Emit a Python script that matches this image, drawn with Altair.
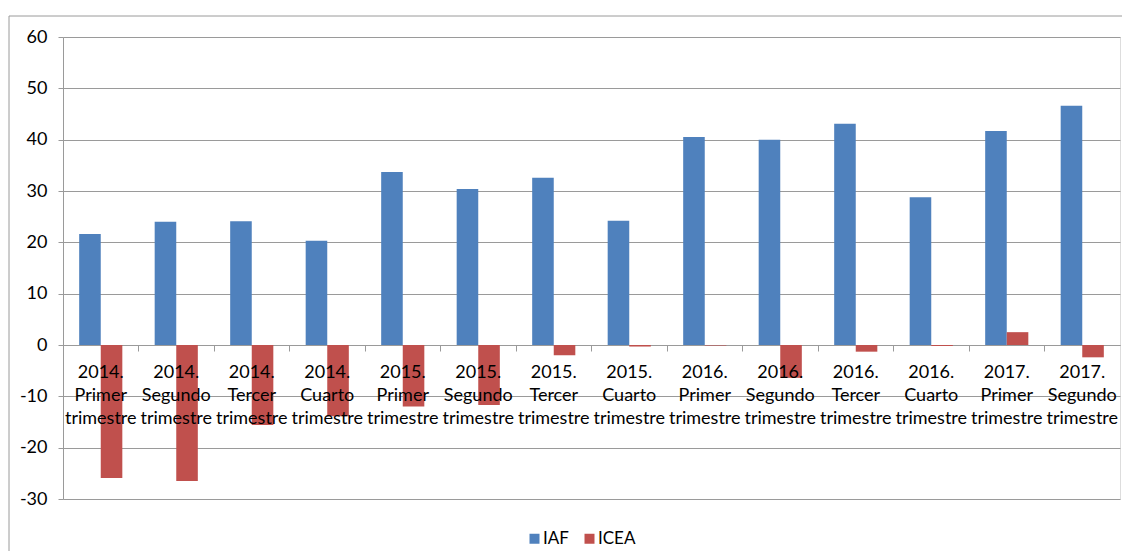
import altair as alt
import pandas as pd

years = ["2014."] * 4 + ["2015."] * 4 + ["2016."] * 4 + ["2017."] * 2
quarters = ["Primer", "Segundo", "Tercer", "Cuarto"] * 3 + ["Primer", "Segundo"]
iaf = [21.6, 24.0, 24.1, 20.3, 33.7, 30.4, 32.6, 24.2, 40.5, 40.0, 43.1, 28.8, 41.7, 46.6]
icea = [-25.9, -26.5, -15.6, -13.9, -12.0, -11.7, -2.0, -0.3, -0.1, -6.4, -1.3, -0.2, 2.5, -2.4]
series = ["IAF", "ICEA"]
colors = ["#4F81BD", "#C0504D"]
y_ticks = [-30, -20, -10, 0, 10, 20, 30, 40, 50, 60]

cats = [f"{y} {q} trimestre" for y, q in zip(years, quarters)]
labels = [f"{y}\n{q}\ntrimestre" for y, q in zip(years, quarters)]

rows = []
for c, a, b in zip(cats, iaf, icea):
    rows.append({"cat": c, "serie": "IAF", "valor": a})
    rows.append({"cat": c, "serie": "ICEA", "valor": b})
df = pd.DataFrame(rows)
lab_df = pd.DataFrame({"cat": cats, "label": labels})

GRAY = "#9a9a9a"
W, H = 1057, 462

xscale = alt.Scale(domain=cats, paddingInner=0, paddingOuter=0)
yscale = alt.Scale(domain=[-30, 60], nice=False)

bars = alt.Chart(df).mark_bar().encode(
    x=alt.X("cat:N", scale=xscale, sort=cats,
            axis=alt.Axis(title=None, labels=False, ticks=True, tickSize=6,
                          bandPosition=0, offset=-154, grid=False,
                          domainColor=GRAY, tickColor=GRAY)),
    xOffset=alt.XOffset("serie:N", sort=series,
                        scale=alt.Scale(paddingInner=0, paddingOuter=0.75)),
    y=alt.Y("valor:Q", scale=yscale,
            axis=alt.Axis(title=None, values=y_ticks, grid=True, gridColor=GRAY,
                          domainColor=GRAY, tickColor=GRAY, tickSize=5,
                          labelExpr="'' + datum.value",
                          labelFont="Lato", labelFontSize=18, labelColor="#000000",
                          labelPadding=11)),
    color=alt.Color("serie:N", sort=series,
                    scale=alt.Scale(domain=series, range=colors),
                    legend=alt.Legend(title=None, orient="none", direction="horizontal",
                                      legendX=463, legendY=493, symbolType="square",
                                      symbolSize=100, symbolStrokeWidth=0,
                                      labelFont="Lato", labelFontSize=17,
                                      labelColor="#000000", columnPadding=12,
                                      labelOffset=0)),
)

text = alt.Chart(lab_df).mark_text(
    font="Lato", fontSize=18, color="#000000", lineBreak="\n",
    baseline="alphabetic", align="center", dy=33, lineHeight=23,
).encode(
    x=alt.X("cat:N", scale=xscale, sort=cats),
    y=alt.datum(0),
    text="label:N",
)

border = alt.Chart(pd.DataFrame({"a": [0]})).mark_rect(
    fill=None, stroke=GRAY, strokeWidth=1
).encode(
    x=alt.value(-54), x2=alt.value(1100), y=alt.value(-21), y2=alt.value(560)
)

chart = alt.layer(bars, text, border).properties(
    width=W, height=H,
    autosize=alt.AutoSizeParams(type="none"),
    padding={"left": 55, "top": 29, "right": 2, "bottom": 52},
).configure_view(stroke=None).configure(background="#ffffff")

chart.save("out.html", embed_options={"renderer": "svg", "actions": False})
